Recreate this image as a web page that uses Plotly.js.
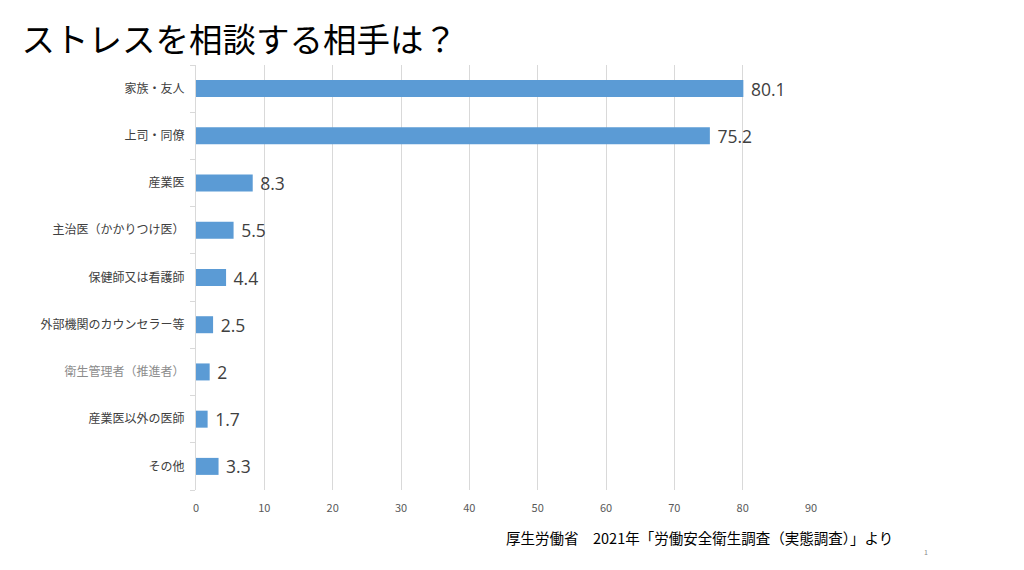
<!DOCTYPE html>
<html><head><meta charset="utf-8">
<script src="https://cdn.plot.ly/plotly-3.0.1.min.js"></script>
<style>html,body{margin:0;padding:0;background:#fff;}#chart{width:1024px;height:570px;}</style>
</head><body><div id="chart"></div>
<script>
const categories = ["家族・友人","上司・同僚","産業医","主治医（かかりつけ医）","保健師又は看護師","外部機関のカウンセラー等","衛生管理者（推進者）","産業医以外の医師","その他"];
const values = [80.1, 75.2, 8.3, 5.5, 4.4, 2.5, 2, 1.7, 3.3];
const tickLabels = ["家族・友人","上司・同僚","産業医","主治医（かかりつけ医）","保健師又は看護師","外部機関のカウンセラー等","<span style=\"color:#8c8c8c\">衛生管理者（推進者）</span>","産業医以外の医師","その他"];
const xTicks = [0,10,20,30,40,50,60,70,80,90];

const font = "Noto Sans CJK JP, Noto Sans, sans-serif";
const trace = {
  type: "bar", orientation: "h",
  x: values, y: categories,
  marker: {color: "#5B9BD5"},
  text: values.map(v => "\u00a0" + String(v)),
  textposition: "outside",
  constraintext: "none",
  textfont: {size: 17.5, color: "#404040", family: "Open Sans, Noto Sans, sans-serif"},
  cliponaxis: false,
  hoverinfo: "none"
};
const layout = {
  width: 1024, height: 570,
  margin: {l: 196, r: 213, t: 65, b: 80},
  paper_bgcolor: "#fff", plot_bgcolor: "#fff",
  showlegend: false,
  bargap: 0.64,
  font: {family: font},
  title: {text: "ストレスを相談する相手は？", x: 0.021, xanchor: "left", y: 0.93, yanchor: "middle",
          font: {size: 33.5, color: "#000", family: font}},
  xaxis: {range: [0, 90], tickvals: xTicks, showgrid: true, gridcolor: "#d9d9d9", gridwidth: 1,
          zeroline: false, showline: false, ticks: "", tickfont: {size: 11, color: "#595959", family: font},
          ticklabelstandoff: 10, fixedrange: true},
  yaxis: {type: "category", autorange: "reversed", tickvals: categories, ticktext: tickLabels,
          showline: true, linecolor: "#d9d9d9", ticks: "outside", tickson: "boundaries", ticklen: 5, tickcolor: "#d9d9d9",
          tickfont: {size: 12, color: "#404040", family: font}, ticklabelstandoff: 8, showgrid: false, fixedrange: true},
  annotations: [
    {text: "厚生労働省　2021年「労働安全衛生調査（実態調査）」より", xref: "paper", yref: "paper",
     x: (895-196)/615, xanchor: "right", y: -(537-490)/425, yanchor: "middle", showarrow: false,
     font: {size: 14.5, color: "#000", family: font}},
    {text: "1", xref: "paper", yref: "paper", x: (926-196)/615, y: -(552-490)/425, xanchor: "center", yanchor: "middle",
     showarrow: false, font: {size: 7, color: "#888", family: font}}
  ]
};
Plotly.newPlot("chart", [trace], layout, {displayModeBar: false, staticPlot: true});
</script></body></html>
